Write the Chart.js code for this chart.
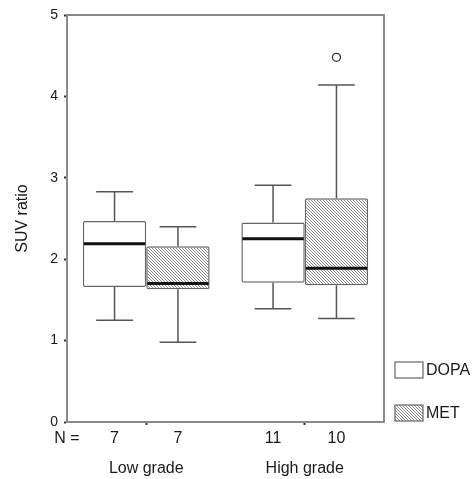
<!DOCTYPE html>
<html>
<head>
<meta charset="utf-8">
<script src="https://cdn.jsdelivr.net/npm/chart.js@4.4.0/dist/chart.umd.min.js"></script>
<style>
  html, body { margin: 0; padding: 0; background: #fff; }
  #wrap { width: 475px; height: 479px; }
</style>
</head>
<body>
<div id="wrap"><canvas id="c"></canvas></div>
<script>
// box plot data
const groups = ["Low grade", "High grade"];
const seriesNames = ["DOPA", "MET"];
const dopaN = [7, 11];
const metN = [7, 10];
const dopaMin = [1.25, 1.39];
const dopaQ1 = [1.66, 1.71];
const dopaMedian = [2.19, 2.25];
const dopaQ3 = [2.47, 2.45];
const dopaMax = [2.83, 2.91];
const metMin = [0.98, 1.27];
const metQ1 = [1.63, 1.68];
const metMedian = [1.70, 1.89];
const metQ3 = [2.16, 2.75];
const metMax = [2.40, 4.14];
const metOutliers = [[], [4.48]];

const FONT = "'Liberation Sans', Arial, sans-serif";
const INK = "#1a1a1a";
const FRAME = "#8a8a8a";
const CAT_PCT = 0.8;

function hatchPattern() {
  const s = 3;
  const c = document.createElement("canvas");
  c.width = s;
  c.height = s;
  const g = c.getContext("2d");
  g.fillStyle = "#fff";
  g.fillRect(0, 0, s, s);
  g.strokeStyle = "#8c8c8c";
  g.lineWidth = 1;
  g.beginPath();
  g.moveTo(-1, -1);
  g.lineTo(s + 1, s + 1);
  g.moveTo(s - 1, -1);
  g.lineTo(s + 1, 1);
  g.moveTo(-1, s - 1);
  g.lineTo(1, s + 1);
  g.stroke();
  return g.createPattern(c, "repeat");
}
const HATCH = hatchPattern();

// N = row: one tick per bar plus the group centres (dots only)
const off = CAT_PCT / 4;
const nTicks = [{ value: -0.5, label: "N =" }];
groups.forEach((_, i) => {
  nTicks.push({ value: i - off, label: String(dopaN[i]) });
  nTicks.push({ value: i, label: "" });
  nTicks.push({ value: i + off, label: String(metN[i]) });
});

const boxPlugin = {
  id: "boxes",
  afterDatasetsDraw(chart) {
    const { ctx } = chart;
    const y = chart.scales.y;
    chart.data.datasets.forEach((ds, di) => {
      const meta = chart.getDatasetMeta(di);
      meta.data.forEach((bar, j) => {
        const { x, width } = bar.getProps(["x", "width"], true);
        const cap = width * 0.29;
        const st = ds.stats;
        ctx.save();
        ctx.strokeStyle = "#555";
        ctx.lineWidth = 1.5;
        ctx.beginPath();
        ctx.moveTo(x, y.getPixelForValue(st.q3[j]));
        ctx.lineTo(x, y.getPixelForValue(st.max[j]));
        ctx.moveTo(x - cap, y.getPixelForValue(st.max[j]));
        ctx.lineTo(x + cap, y.getPixelForValue(st.max[j]));
        ctx.moveTo(x, y.getPixelForValue(st.q1[j]));
        ctx.lineTo(x, y.getPixelForValue(st.min[j]));
        ctx.moveTo(x - cap, y.getPixelForValue(st.min[j]));
        ctx.lineTo(x + cap, y.getPixelForValue(st.min[j]));
        ctx.stroke();
        ctx.strokeStyle = "#111";
        ctx.lineWidth = 3;
        ctx.beginPath();
        ctx.moveTo(x - width / 2 + 1, y.getPixelForValue(st.median[j]));
        ctx.lineTo(x + width / 2 - 1, y.getPixelForValue(st.median[j]));
        ctx.stroke();
        (st.outliers[j] || []).forEach((v) => {
          ctx.strokeStyle = "#333";
          ctx.lineWidth = 1.3;
          ctx.beginPath();
          ctx.arc(x, y.getPixelForValue(v), 4, 0, Math.PI * 2);
          ctx.stroke();
        });
        ctx.restore();
      });
    });
  },
  afterDraw(chart) {
    const { ctx, chartArea: a } = chart;
    ctx.save();
    // top and right frame
    ctx.strokeStyle = FRAME;
    ctx.lineWidth = 2;
    ctx.beginPath();
    ctx.moveTo(a.left, a.top);
    ctx.lineTo(a.right, a.top);
    ctx.lineTo(a.right, a.bottom);
    ctx.stroke();
    // legend, bottom aligned to the plot
    const fills = ["#fff", HATCH];
    const bx = a.right + 11;
    const rows = [a.bottom - 60, a.bottom - 17];
    ctx.font = "16px " + FONT;
    ctx.textBaseline = "middle";
    ctx.textAlign = "left";
    seriesNames.forEach((name, i) => {
      ctx.fillStyle = fills[i];
      ctx.fillRect(bx, rows[i], 28, 16);
      ctx.strokeStyle = "#666";
      ctx.lineWidth = 1.2;
      ctx.strokeRect(bx, rows[i], 28, 16);
      ctx.fillStyle = INK;
      ctx.fillText(name, bx + 31, rows[i] + 9);
    });
    ctx.restore();
  },
};

new Chart(document.getElementById("c"), {
  type: "bar",
  data: {
    labels: groups,
    datasets: [
      {
        label: seriesNames[0],
        xAxisID: "x",
        data: groups.map((_, i) => [dopaQ1[i], dopaQ3[i]]),
        backgroundColor: "#fff",
        borderColor: "#666",
        borderWidth: 1.5,
        borderRadius: 2,
        borderSkipped: false,
        stats: { min: dopaMin, q1: dopaQ1, median: dopaMedian, q3: dopaQ3, max: dopaMax, outliers: [] },
      },
      {
        label: seriesNames[1],
        xAxisID: "x",
        data: groups.map((_, i) => [metQ1[i], metQ3[i]]),
        backgroundColor: HATCH,
        borderColor: "#666",
        borderWidth: 1.5,
        borderRadius: 2,
        borderSkipped: false,
        stats: { min: metMin, q1: metQ1, median: metMedian, q3: metQ3, max: metMax, outliers: metOutliers },
      },
    ],
  },
  options: {
    responsive: true,
    maintainAspectRatio: false,
    animation: false,
    categoryPercentage: CAT_PCT,
    barPercentage: 1.0,
    layout: { padding: { top: 15, right: 91, left: 0, bottom: 2 } },
    plugins: {
      legend: { display: false },
      tooltip: { enabled: false },
    },
    scales: {
      y: {
        min: 0,
        max: 5,
        ticks: { stepSize: 1, color: INK, font: { family: FONT, size: 14 }, padding: 6 },
        grid: { drawOnChartArea: false, tickLength: 3, tickWidth: 2, tickColor: "#333" },
        border: { color: FRAME, width: 2 },
        title: { display: true, text: "SUV ratio", color: INK, font: { family: FONT, size: 16 }, padding: { top: 13, bottom: 0 } },
        afterFit: (s) => { s.width = 67; },
      },
      xN: {
        type: "linear",
        position: "bottom",
        weight: 0,
        offset: false,
        min: -0.5,
        max: 1.5,
        afterBuildTicks: (s) => { s.ticks = nTicks.map((t) => ({ value: t.value })); },
        ticks: {
          autoSkip: false,
          maxRotation: 0,
          color: INK,
          font: { family: FONT, size: 16 },
          padding: 4,
          callback: (v, i) => nTicks[i].label,
        },
        grid: {
          offset: false,
          drawOnChartArea: false,
          tickLength: 3,
          tickWidth: 2,
          tickColor: (c) => (c.index !== undefined && nTicks[c.index] && nTicks[c.index].label === "" ? "#333" : "rgba(0,0,0,0)"),
        },
        border: { color: FRAME, width: 2 },
        afterFit: (s) => { s.height = 30; },
      },
      x: {
        type: "category",
        position: "bottom",
        weight: 1,
        grid: { display: false, drawTicks: false },
        border: { display: false },
        ticks: { color: INK, font: { family: FONT, size: 16 }, padding: 7 },
        afterFit: (s) => { s.height = 25; },
      },
    },
  },
  plugins: [boxPlugin],
});
</script>
</body>
</html>
